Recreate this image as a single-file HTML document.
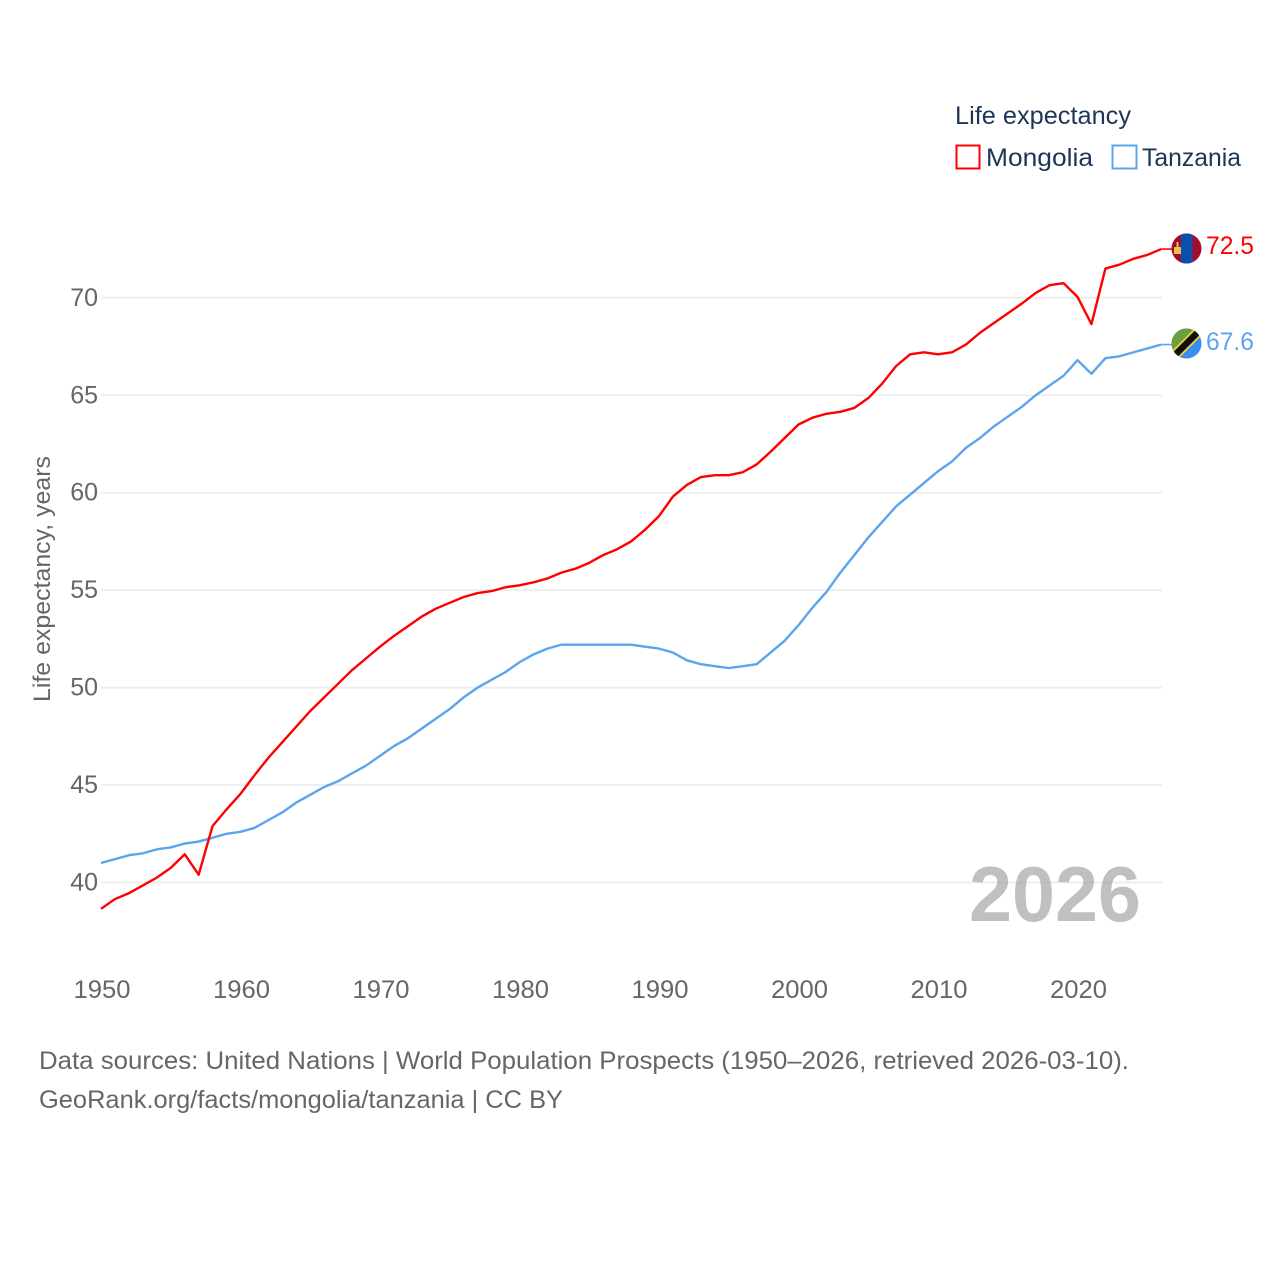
<!DOCTYPE html>
<html lang="en">
<head>
<meta charset="utf-8">
<title>Life expectancy: Mongolia and Tanzania</title>
<style>
  html, body { margin: 0; padding: 0; background: #ffffff; }
  svg { display: block; font-family: "Liberation Sans", sans-serif; }
</style>
</head>
<body>
<svg id="chart" xmlns="http://www.w3.org/2000/svg" width="1280" height="1280" viewBox="0 0 1280 1280">
  <rect x="0" y="0" width="1280" height="1280" fill="#ffffff"/>
  <g id="grid"></g>
  <g id="y-ticks"></g>
  <g id="x-ticks"></g>
  <text transform="translate(50,702) rotate(-90)" font-size="24" fill="#666666" textLength="246" lengthAdjust="spacingAndGlyphs">Life expectancy, years</text>
  <text x="969" y="921" font-size="78" font-weight="bold" fill="#999999" fill-opacity="0.62" textLength="172" lengthAdjust="spacingAndGlyphs">2026</text>
  <g id="series"></g>

  <g>
    <text x="955" y="124" font-size="25" fill="#1d3557" textLength="176" lengthAdjust="spacingAndGlyphs">Life expectancy</text>
    <rect x="956.5" y="145.5" width="23" height="23" fill="none" stroke="#ff0000" stroke-width="2"/>
    <text x="986" y="166" font-size="25" fill="#1d3557" textLength="107" lengthAdjust="spacingAndGlyphs">Mongolia</text>
    <rect x="1112.5" y="145.5" width="24" height="23" fill="none" stroke="#5ba4ee" stroke-width="2"/>
    <text x="1142" y="166" font-size="25" fill="#1d3557" textLength="99" lengthAdjust="spacingAndGlyphs">Tanzania</text>
  </g>

  <g id="leaders"></g>

  <defs>
    <clipPath id="clip-mn"><circle cx="1186.5" cy="248.5" r="15"/></clipPath>
    <clipPath id="clip-tz"><circle cx="1186.5" cy="343.5" r="15"/></clipPath>
  </defs>
  <g clip-path="url(#clip-mn)">
    <rect x="1171" y="233" width="31" height="31" fill="#a50c2c"/>
    <rect x="1181" y="233" width="11.5" height="31" fill="#0a4fb0"/>
    <rect x="1174" y="247" width="7" height="7" fill="#e8c24a"/>
    <rect x="1176.5" y="242" width="2" height="5" fill="#e8c24a"/>
  </g>
  <g clip-path="url(#clip-tz)">
    <rect x="1171" y="328" width="31" height="31" fill="#3a8df0"/>
    <polygon points="1171,328 1202,328 1171,359" fill="#6ba041"/>
    <line x1="1169" y1="361" x2="1204" y2="326" stroke="#f2d33c" stroke-width="10"/>
    <line x1="1169" y1="361" x2="1204" y2="326" stroke="#111111" stroke-width="6.5"/>
  </g>
  <text id="label-mn" x="1206" y="254" font-size="25" fill="#ff0000" textLength="48" lengthAdjust="spacingAndGlyphs"></text>
  <text id="label-tz" x="1206" y="350" font-size="25" fill="#5ba4ee" textLength="48" lengthAdjust="spacingAndGlyphs"></text>

  <text x="39" y="1069" font-size="25" fill="#666666" textLength="1090" lengthAdjust="spacingAndGlyphs">Data sources: United Nations | World Population Prospects (1950–2026, retrieved 2026-03-10).</text>
  <text x="39" y="1108" font-size="25" fill="#666666" textLength="524" lengthAdjust="spacingAndGlyphs">GeoRank.org/facts/mongolia/tanzania | CC BY</text>
</svg>

<script>
const startYear = 1950;
const xTickLabels = [1950, 1960, 1970, 1980, 1990, 2000, 2010, 2020];
const yTickLabels = [40, 45, 50, 55, 60, 65, 70];
const mongoliaValues = [
  38.65, 39.15, 39.45, 39.85, 40.25, 40.75, 41.45, 40.4, 42.9, 43.75,
  44.55, 45.5, 46.4, 47.2, 48.0, 48.8, 49.5, 50.2, 50.9, 51.5,
  52.1, 52.65, 53.15, 53.65, 54.05, 54.35, 54.65, 54.85, 54.95, 55.15,
  55.25, 55.4, 55.6, 55.9, 56.1, 56.4, 56.8, 57.1, 57.5, 58.1,
  58.8, 59.8, 60.4, 60.8, 60.9, 60.9, 61.05, 61.45, 62.1, 62.8,
  63.5, 63.85, 64.05, 64.15, 64.35, 64.85, 65.6, 66.5, 67.1, 67.2,
  67.1, 67.2, 67.6, 68.2, 68.7, 69.2, 69.7, 70.25, 70.65, 70.75,
  70.05, 68.65, 71.5, 71.7, 72.0, 72.2, 72.5
];
const tanzaniaValues = [
  41.0, 41.2, 41.4, 41.5, 41.7, 41.8, 42.0, 42.1, 42.3, 42.5,
  42.6, 42.8, 43.2, 43.6, 44.1, 44.5, 44.9, 45.2, 45.6, 46.0,
  46.5, 47.0, 47.4, 47.9, 48.4, 48.9, 49.5, 50.0, 50.4, 50.8,
  51.3, 51.7, 52.0, 52.2, 52.2, 52.2, 52.2, 52.2, 52.2, 52.1,
  52.0, 51.8, 51.4, 51.2, 51.1, 51.0, 51.1, 51.2, 51.8, 52.4,
  53.2, 54.1, 54.9, 55.9, 56.8, 57.7, 58.5, 59.3, 59.9, 60.5,
  61.1, 61.6, 62.3, 62.8, 63.4, 63.9, 64.4, 65.0, 65.5, 66.0,
  66.8, 66.1, 66.9, 67.0, 67.2, 67.4, 67.6
];

const SVG_NS = 'http://www.w3.org/2000/svg';
function xScale(year) { return 101 + (year - 1950) * 13.95; }
function yScale(value) { return 882.5 - (value - 40) * 19.49; }

const gridGroup = document.getElementById('grid');
const yGroup = document.getElementById('y-ticks');
const xGroup = document.getElementById('x-ticks');
const seriesGroup = document.getElementById('series');
const leaderGroup = document.getElementById('leaders');

yTickLabels.forEach(function (tick) {
  const line = document.createElementNS(SVG_NS, 'line');
  
  
  line.setAttribute('x1', 101);
  line.setAttribute('x2', 1162);
  line.setAttribute('y1', yScale(tick));
  line.setAttribute('y2', yScale(tick));
  line.setAttribute('stroke', '#eeeeee');
  line.setAttribute('stroke-width', 2);
  gridGroup.appendChild(line);

  const label = document.createElementNS(SVG_NS, 'text');
  
  
  label.setAttribute('x', 98);
  label.setAttribute('y', yScale(tick) + 8);
  label.setAttribute('text-anchor', 'end');
  label.setAttribute('font-size', 25);
  label.setAttribute('fill', '#666666');
  label.textContent = tick;
  yGroup.appendChild(label);
});

xTickLabels.forEach(function (tick) {
  const label = document.createElementNS(SVG_NS, 'text');
  
  
  label.setAttribute('x', xScale(tick) + 1);
  label.setAttribute('y', 998);
  label.setAttribute('text-anchor', 'middle');
  label.setAttribute('font-size', 25);
  label.setAttribute('fill', '#666666');
  label.setAttribute('textLength', 57);
  label.setAttribute('lengthAdjust', 'spacingAndGlyphs');
  label.textContent = tick;
  xGroup.appendChild(label);
});

function pointsFor(values) {
  return values.map(function (value, i) {
    return xScale(startYear + i).toFixed(2) + ',' + yScale(value).toFixed(2);
  }).join(' ');
}

const tanzaniaLine = document.createElementNS(SVG_NS, 'polyline');


tanzaniaLine.setAttribute('points', pointsFor(tanzaniaValues));
tanzaniaLine.setAttribute('fill', 'none');
tanzaniaLine.setAttribute('stroke', '#5ba4ee');
tanzaniaLine.setAttribute('stroke-width', 2.4);
tanzaniaLine.setAttribute('stroke-linejoin', 'round');
seriesGroup.appendChild(tanzaniaLine);

const mongoliaLine = document.createElementNS(SVG_NS, 'polyline');


mongoliaLine.setAttribute('points', pointsFor(mongoliaValues));
mongoliaLine.setAttribute('fill', 'none');
mongoliaLine.setAttribute('stroke', '#ff0000');
mongoliaLine.setAttribute('stroke-width', 2.4);
mongoliaLine.setAttribute('stroke-linejoin', 'round');
seriesGroup.appendChild(mongoliaLine);

const lastYear = startYear + mongoliaValues.length - 1;

const mongoliaLeader = document.createElementNS(SVG_NS, 'line');


mongoliaLeader.setAttribute('x1', xScale(lastYear));
mongoliaLeader.setAttribute('x2', 1172);
mongoliaLeader.setAttribute('y1', yScale(mongoliaValues[mongoliaValues.length - 1]));
mongoliaLeader.setAttribute('y2', yScale(mongoliaValues[mongoliaValues.length - 1]));
mongoliaLeader.setAttribute('stroke', '#ff0000');
mongoliaLeader.setAttribute('stroke-width', 1.6);
leaderGroup.appendChild(mongoliaLeader);

const tanzaniaLeader = document.createElementNS(SVG_NS, 'line');


tanzaniaLeader.setAttribute('x1', xScale(lastYear));
tanzaniaLeader.setAttribute('x2', 1172);
tanzaniaLeader.setAttribute('y1', yScale(tanzaniaValues[tanzaniaValues.length - 1]));
tanzaniaLeader.setAttribute('y2', yScale(tanzaniaValues[tanzaniaValues.length - 1]));
tanzaniaLeader.setAttribute('stroke', '#5ba4ee');
tanzaniaLeader.setAttribute('stroke-width', 1.6);
leaderGroup.appendChild(tanzaniaLeader);

document.getElementById('label-mn').textContent = mongoliaValues[mongoliaValues.length - 1].toFixed(1);
document.getElementById('label-tz').textContent = tanzaniaValues[tanzaniaValues.length - 1].toFixed(1);
</script>
</body>
</html>
